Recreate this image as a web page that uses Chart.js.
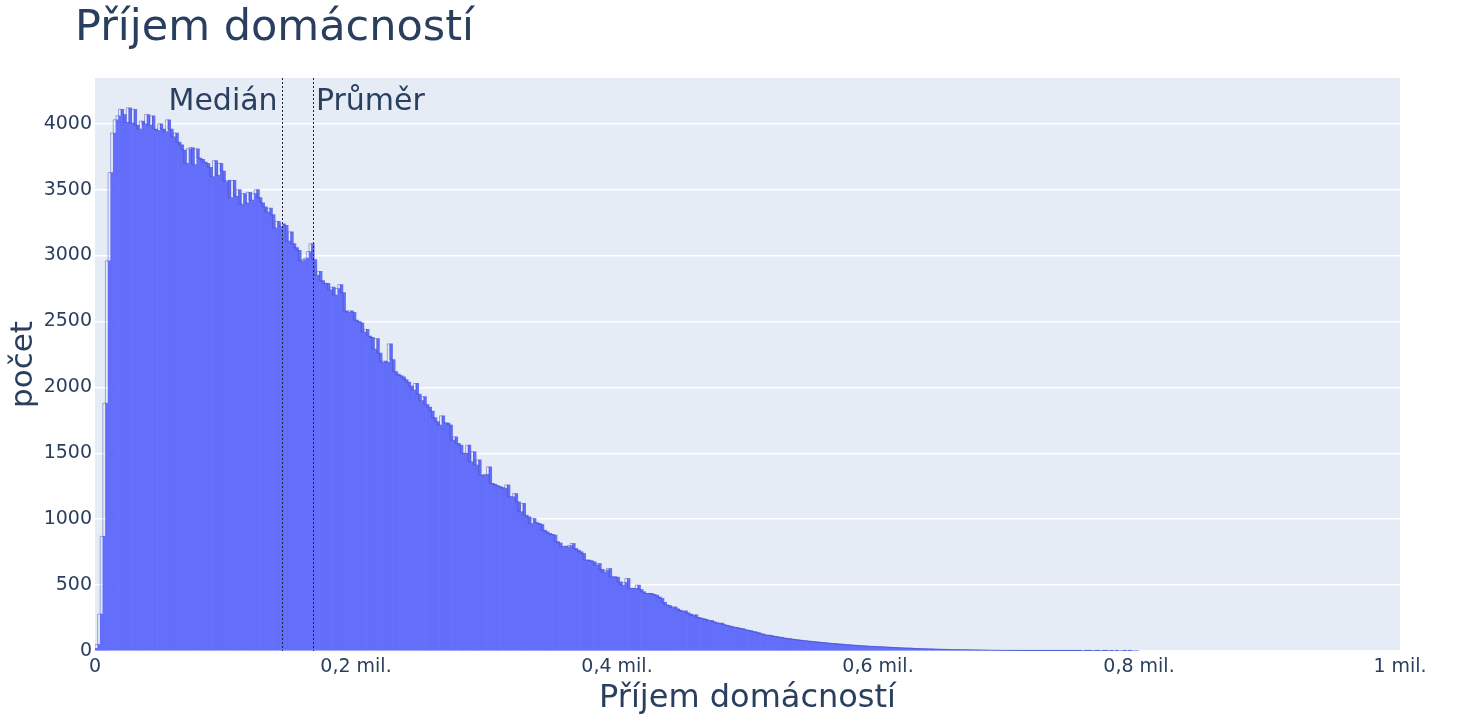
<!DOCTYPE html>
<html lang="cs">
<head>
<meta charset="utf-8">
<title>Příjem domácností</title>
<script src="https://cdn.jsdelivr.net/npm/chart.js@4.4.1/dist/chart.umd.min.js"></script>
<style>
  html,body{margin:0;padding:0;background:#fff;}
  #wrap{width:1464px;height:720px;position:relative;}
</style>
</head>
<body>
<div id="wrap"><canvas id="hist"></canvas></div>
<script>
// histogram - prijem domacnosti, biny po 2000 Kc
const BIN_WIDTH = 2000;
const COUNTS = [
  20, 50, 280, 870, 1880, 2960, 3630, 3930, 4030, 4060,
  4110, 4070, 4010, 4120, 4005, 4110, 3990, 3960, 4020, 4000,
  4070, 3990, 4060, 3960, 3950, 4000, 3960, 3940, 4030, 3960,
  3900, 3930, 3860, 3840, 3800, 3700, 3810, 3820, 3690, 3810,
  3740, 3730, 3710, 3700, 3670, 3600, 3720, 3610, 3700, 3640,
  3560, 3570, 3440, 3570, 3450, 3500, 3390, 3470, 3400, 3480,
  3420, 3470, 3500, 3440, 3400, 3370, 3330, 3360, 3310, 3210,
  3260, 3220, 3240, 3230, 3110, 3180, 3090, 3060, 3040, 2960,
  2970, 2980, 3030, 3090, 2970, 2850, 2880, 2810, 2790, 2790,
  2740, 2760, 2700, 2750, 2780, 2720, 2580, 2570, 2580, 2570,
  2510, 2500, 2490, 2420, 2440, 2390, 2380, 2290, 2370, 2260,
  2190, 2200, 2190, 2330, 2210, 2120, 2100, 2090, 2080, 2060,
  2040, 2010, 1980, 2030, 1950, 1900, 1930, 1870, 1850, 1820,
  1770, 1740, 1715, 1784, 1730, 1730, 1715, 1600, 1625, 1575,
  1562, 1500, 1500, 1562, 1436, 1512, 1411, 1450, 1335, 1335,
  1340, 1398, 1272, 1265, 1255, 1248, 1240, 1235, 1260, 1170,
  1170, 1195, 1132, 1057, 1120, 1030, 1018, 968, 1005, 975,
  968, 960, 917, 905, 892, 885, 880, 830, 820, 791,
  795, 790, 800, 816, 778, 765, 753, 740, 690, 690,
  685, 677, 652, 664, 620, 600, 614, 626, 563, 563,
  560, 525, 500, 520, 550, 475, 475, 475, 500, 467,
  450, 437, 437, 437, 430, 424, 410, 400, 370, 350,
  345, 330, 335, 320, 310, 300, 305, 290, 280, 270,
  275, 255, 250, 245, 240, 230, 232, 222, 215, 210,
  212, 200, 195, 190, 185, 180, 178, 172, 170, 162,
  158, 155, 148, 145, 140, 132, 128, 121, 120, 118,
  112, 110, 105, 104, 98, 96, 94, 90, 88, 85,
  83, 80, 78, 76, 74, 72, 70, 68, 66, 64,
  62, 60, 58, 57, 55, 53, 52, 50, 48, 47,
  45, 44, 42, 41, 40, 38, 37, 36, 35, 34,
  33, 32, 31, 30, 29, 28, 27, 26, 25, 24,
  23, 22, 22, 21, 20, 19, 18, 18, 17, 16,
  16, 15, 14, 14, 13, 13, 12, 12, 11, 11,
  11, 10, 10, 10, 9, 9, 8, 8, 8, 7,
  7, 7, 6, 6, 6, 5, 5, 5, 5, 4,
  4, 4, 4, 4, 3, 3, 3, 3, 3, 3,
  2, 2, 2, 2, 2, 2, 2, 2, 2, 1,
  1, 1, 1, 2, 1, 1, 1, 1, 0, 1,
  1, 1, 0, 1, 1, 0, 1, 1, 0, 1,
  0, 1, 0, 0, 1, 0, 1, 0, 0, 0
];
const MARKERS = [
  {label: 'Medián', value: 143000, side: 'left'},
  {label: 'Průměr', value: 167000, side: 'right'}
];
const X_TICKS = [0, 200000, 400000, 600000, 800000, 1000000];
const Y_TICKS = [0, 500, 1000, 1500, 2000, 2500, 3000, 3500, 4000];
const X_MAX = 1000000;
const Y_MAX = 4347;

const TEXT = '#2a3f5f';
const FONT = '"DejaVu Sans", Verdana, sans-serif';

const points = COUNTS.map((c, i) => ({x: i * BIN_WIDTH + BIN_WIDTH / 2, y: c}));
// obrys histogramu: schody po hranach binu
const edges = COUNTS.map((c, i) => ({x: i * BIN_WIDTH, y: c}));
edges.push({x: COUNTS.length * BIN_WIDTH, y: COUNTS[COUNTS.length - 1]});

function fmtMil(v){
  if(v === 0) return '0';
  if(v === 1000000) return '1 mil.';
  return (v / 1e6).toFixed(1).replace('.', ',') + ' mil.';
}

const overlay = {
  id: 'overlay',
  beforeDraw(chart){
    const {ctx, chartArea: a} = chart;
    ctx.save();
    ctx.fillStyle = '#e5ecf6';
    ctx.fillRect(a.left, a.top, a.right - a.left, a.bottom - a.top);
    ctx.restore();
  },
  afterDatasetsDraw(chart){
    const {ctx, chartArea: a, scales: {x}} = chart;
    ctx.save();
    ctx.strokeStyle = '#1e2433';
    ctx.lineWidth = 1;
    ctx.setLineDash([2, 2]);
    MARKERS.forEach(m => {
      const px = Math.round(x.getPixelForValue(m.value)) + 0.5;
      ctx.beginPath(); ctx.moveTo(px, a.top); ctx.lineTo(px, a.bottom); ctx.stroke();
    });
    ctx.setLineDash([]);
    ctx.fillStyle = TEXT;
    ctx.font = '30px ' + FONT;
    ctx.textBaseline = 'alphabetic';
    MARKERS.forEach(m => {
      const px = x.getPixelForValue(m.value);
      if(m.side === 'left'){ ctx.textAlign = 'right'; ctx.fillText(m.label, px - 4, 110); }
      else { ctx.textAlign = 'left'; ctx.fillText(m.label, px + 3, 110); }
    });
    ctx.font = '43px ' + FONT;
    ctx.textAlign = 'left';
    ctx.fillText('Příjem domácností', 75, 40);
    ctx.restore();
  }
};

new Chart(document.getElementById('hist').getContext('2d'), {
  type: 'bar',
  data: {datasets: [{
    type: 'line',
    data: edges,
    stepped: 'after',
    borderColor: 'rgba(62,70,170,0.55)',
    borderWidth: 0.8,
    pointRadius: 0,
    fill: false,
    order: 0
  }, {
    data: points,
    backgroundColor: '#636efa',
    borderWidth: 0,
    barPercentage: 1,
    categoryPercentage: 1,
    grouped: false,
    order: 1
  }]},
  options: {
    responsive: true,
    maintainAspectRatio: false,
    animation: false,
    events: [],
    layout: {padding: {left: 0, top: 78, right: 64, bottom: 0}},
    plugins: {legend: {display: false}, tooltip: {enabled: false}, title: {display: false}},
    scales: {
      x: {
        type: 'linear', min: 0, max: X_MAX, offset: false,
        afterFit(s){ s.height = 69; },
        afterBuildTicks(s){ s.ticks = X_TICKS.map(v => ({value: v})); },
        grid: {display: false, drawTicks: false, offset: false},
        border: {display: false},
        ticks: {color: TEXT, font: {family: FONT, size: 19}, padding: 5, maxRotation: 0, autoSkip: false, callback: fmtMil},
        title: {display: true, text: 'Příjem domácností', color: TEXT, font: {family: FONT, size: 32}, padding: {top: 0, bottom: 2}}
      },
      y: {
        min: 0, max: Y_MAX,
        afterFit(s){ s.width = 95; },
        afterBuildTicks(s){ s.ticks = Y_TICKS.map(v => ({value: v})); },
        grid: {color: '#ffffff', lineWidth: 1.5, drawTicks: false},
        border: {display: false},
        ticks: {color: TEXT, font: {family: FONT, size: 19}, padding: 3, autoSkip: false, callback: v => String(v)},
        title: {display: true, text: 'počet', color: TEXT, font: {family: FONT, size: 31}, padding: {top: 5, bottom: 0}}
      }
    }
  },
  plugins: [overlay]
});
</script>
</body>
</html>
